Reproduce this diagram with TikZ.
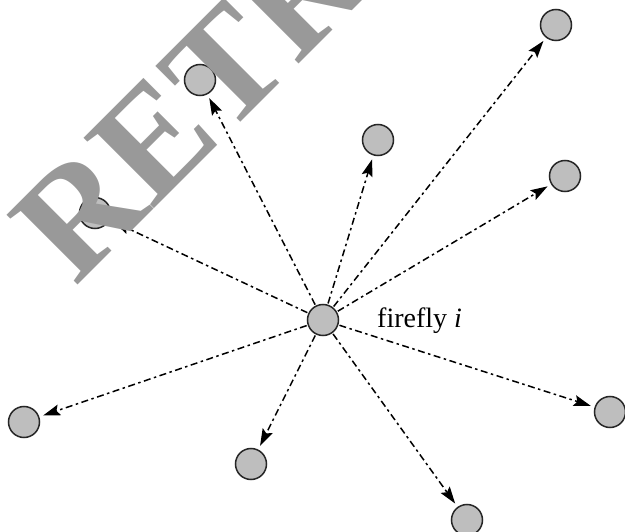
\documentclass[tikz,border=0pt]{standalone}
\usepackage{fontspec}
\setmainfont{Liberation Serif}
\usetikzlibrary{arrows.meta}
\definecolor{ffill}{RGB}{190,190,190}
\definecolor{wmark}{RGB}{153,153,153}
\tikzset{
  fly/.style={circle, draw=black!85, line width=1.5pt, fill=ffill, minimum size=31pt, inner sep=0pt},
  ray/.style={line width=1.5pt, dash pattern=on 7pt off 3.5pt on 2.5pt off 3.5pt,
    -{Stealth[length=17pt,width=11pt,inset=3pt]}, shorten >=4pt, shorten <=1pt},
  wm/.style={text=wmark, font=\fontsize{152}{152}\selectfont\bfseries, inner sep=0pt, rotate=45, anchor=base west}
}
\begin{document}
\begin{tikzpicture}[x=1pt,y=-1pt]
\useasboundingbox (0,0) rectangle (625,532);
\clip (0,0) rectangle (625,532);
\node[fly] (c) at (323,320) {};
\node[fly] (t1) at (556,25) {};
\node[fly] (t2) at (200,80) {};
\node[fly] (t3) at (378,140) {};
\node[fly] (t4) at (565,176) {};
\node[fly] (t5) at (95,213) {};
\node[fly] (t6) at (24,422) {};
\node[fly] (t7) at (251,464) {};
\node[fly] (t8) at (610,412) {};
\node[fly] (t9) at (467,520) {};
\node[anchor=base west, inner sep=0pt, font=\fontsize{28}{28}\selectfont] (lbl) at (377,328) {firefly \textit{i}};
\foreach \t in {t1,t2,t3,t4,t5,t6,t7,t8,t9} {\draw[ray] (c) -- (\t);}
\node[wm] (w) at (75,288) {RETRACTED};
\end{tikzpicture}
\end{document}
